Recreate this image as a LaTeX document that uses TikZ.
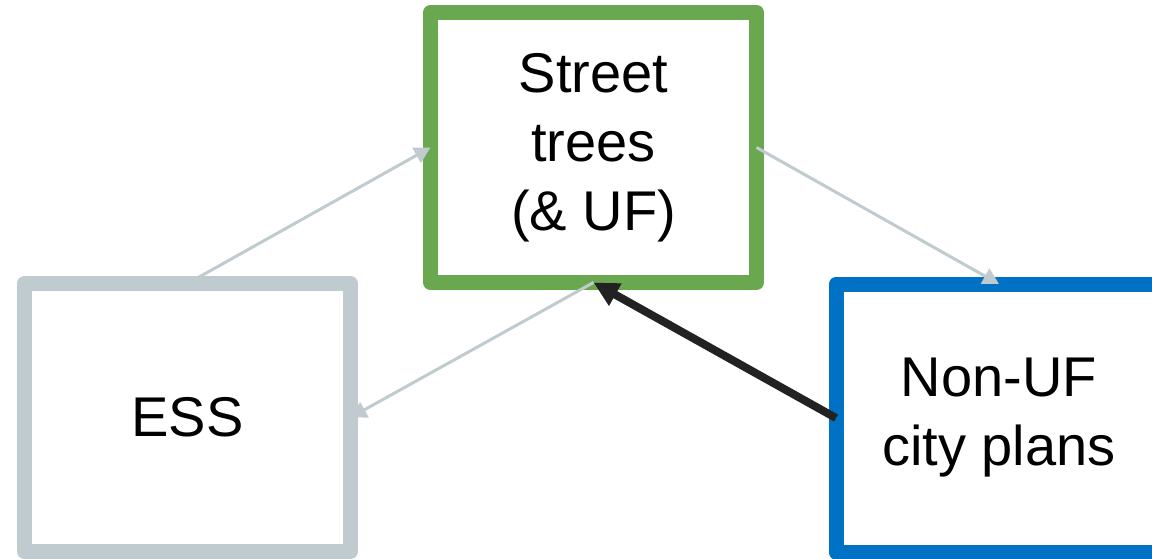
\documentclass[tikz,border=0pt]{standalone}
\usepackage{fontspec}
\setmainfont{Liberation Sans}
\usetikzlibrary{arrows.meta}
\definecolor{essgrey}{RGB}{192,203,208}
\definecolor{treegreen}{RGB}{106,168,79}
\definecolor{planblue}{RGB}{0,114,198}
\definecolor{darkline}{RGB}{34,34,34}
\begin{document}
\begin{tikzpicture}[x=1pt,y=-1pt,line join=round,
	box/.style={draw,line width=15pt,outer sep=0pt,minimum width=326pt,minimum height=268pt,align=center,text=black,font=\fontsize{56}{69}\selectfont},
	linkarrow/.style={draw=essgrey,line width=3pt,-{Triangle[length=16pt,width=17pt]}},
	mainarrow/.style={draw=darkline,line width=8pt,-{Triangle[length=25pt,width=24pt]}}]
	\useasboundingbox (0,0) rectangle (1152,559);
	\node[box,draw=treegreen,minimum height=270pt] (trees) at (593.5,147.5) {Street\\trees\\(\& UF)};
	\node[box,draw=essgrey] (ESS) at (187.5,417.5) {ESS};
	\node[box,draw=planblue] (plans) at (999,418) {Non-UF\\city plans};
	\draw[linkarrow] (ESS.north) -- (trees.west);
	\draw[linkarrow] (trees.east) -- (plans.north);
	\draw[linkarrow] (trees.south) -- (ESS.east);
	\draw[mainarrow] (plans.west) -- (trees.south);
\end{tikzpicture}
\end{document}
